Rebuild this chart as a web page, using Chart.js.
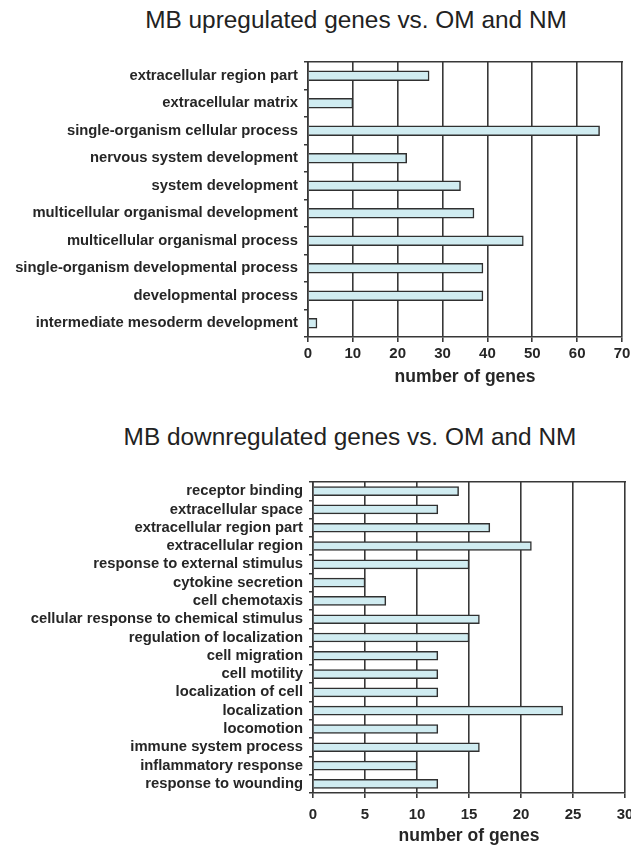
<!DOCTYPE html>
<html>
<head>
<meta charset="utf-8">
<script src="https://cdn.jsdelivr.net/npm/chart.js@4.4.0/dist/chart.umd.min.js"></script>
<style>
  body { margin: 0; background: #fff; width: 631px; height: 847px; overflow: hidden; position: relative; }
  canvas { position: absolute; left: 0; }
  .title { position: absolute; transform: translateX(-50%); white-space: nowrap;
           font: 24.4px "Liberation Sans", Arial, sans-serif; color: #222; line-height: 28px; }
</style>
</head>
<body>
<div class="title" id="title1" style="left:356px; top:6px;">MB upregulated genes vs. OM and NM</div>
<canvas id="chart1" width="631" height="400" style="top:0"></canvas>
<div class="title" id="title2" style="left:350px; top:423px;">MB downregulated genes vs. OM and NM</div>
<canvas id="chart2" width="631" height="447" style="top:400px"></canvas>
<script>
// upregulated (top chart)
const upTerms = [
  "extracellular region part",
  "extracellular matrix",
  "single-organism cellular process",
  "nervous system development",
  "system development",
  "multicellular organismal development",
  "multicellular organismal process",
  "single-organism developmental process",
  "developmental process",
  "intermediate mesoderm development"
];
const upCounts = [27, 10, 65, 22, 34, 37, 48, 39, 39, 2];
const upTicks = { min: 0, max: 70, step: 10 };

// downregulated (bottom chart)
const downTerms = [
  "receptor binding",
  "extracellular space",
  "extracellular region part",
  "extracellular region",
  "response to external stimulus",
  "cytokine secretion",
  "cell chemotaxis",
  "cellular response to chemical stimulus",
  "regulation of localization",
  "cell migration",
  "cell motility",
  "localization of cell",
  "localization",
  "locomotion",
  "immune system process",
  "inflammatory response",
  "response to wounding"
];
const downCounts = [14, 12, 17, 21, 15, 5, 7, 16, 15, 12, 12, 12, 24, 12, 16, 10, 12];
const downTicks = { min: 0, max: 30, step: 5 };

const axisTitle = "number of genes";

const FONT = '"Liberation Sans", Arial, sans-serif';
const INK = '#262626';
const LINE = '#383838';

const makeChart = (canvas, terms, counts, range, box) => {
  const noPad = (s) => { s.paddingLeft = 0; s.paddingRight = 0; s.paddingTop = 0; s.paddingBottom = 0; };
  return new Chart(canvas, {
    type: 'bar',
    data: {
      labels: terms,
      datasets: [{
        data: counts,
        backgroundColor: '#d0ecf1',
        borderColor: '#303030',
        borderWidth: 1.5,
        barThickness: box.bar
      }]
    },
    options: {
      indexAxis: 'y',
      responsive: false,
      animation: false,
      layout: { padding: { top: box.top, left: 0, right: 631 - box.right, bottom: 0 } },
      plugins: { legend: { display: false }, tooltip: { enabled: false } },
      scales: {
        x: {
          min: range.min,
          max: range.max,
          ticks: { stepSize: range.step, color: INK, padding: box.tickPad,
                   font: { family: FONT, size: 15, weight: 'bold' } },
          grid: { color: LINE, lineWidth: 1.6, tickLength: 5 },
          border: { color: LINE, width: 1.6 },
          title: { display: true, text: axisTitle, color: INK,
                   padding: { top: 0, bottom: box.titlePad },
                   font: { family: FONT, size: 17.5, weight: 'bold' } },
          afterFit: (s) => { s.height = box.axisH; noPad(s); }
        },
        x2: {
          position: 'top',
          min: range.min,
          max: range.max,
          ticks: { display: false },
          grid: { drawOnChartArea: false, drawTicks: false },
          border: { color: LINE, width: 1.6 },
          afterFit: (s) => { s.height = 0; noPad(s); }
        },
        y: {
          ticks: { color: INK, padding: 6, autoSkip: false,
                   font: { family: FONT, size: 14.8, weight: 'bold' } },
          grid: { drawOnChartArea: false, tickLength: 4, color: LINE, lineWidth: 1.5 },
          border: { color: LINE, width: 1.6 },
          afterFit: (s) => { s.width = box.left; noPad(s); }
        }
      }
    }
  });
};

makeChart(document.getElementById('chart1'), upTerms, upCounts, upTicks,
  { top: 62, left: 308, right: 622, axisH: 63, tickPad: 3, titlePad: 12.5, bar: 10 });

makeChart(document.getElementById('chart2'), downTerms, downCounts, downTicks,
  { top: 82, left: 313, right: 625, axisH: 54, tickPad: 8, titlePad: 0, bar: 9 });
</script>
</body>
</html>
